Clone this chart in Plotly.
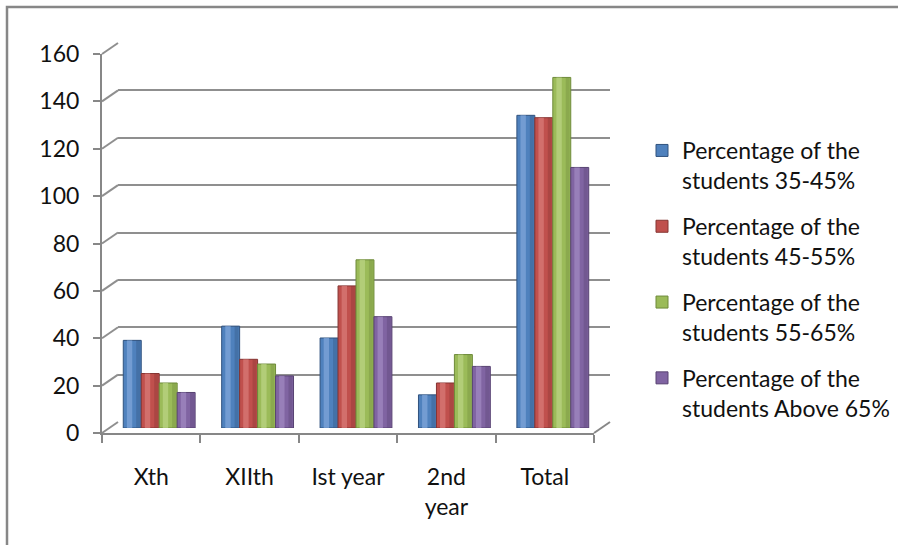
import plotly.graph_objects as go

# ---- data -------------------------------------------------------------
categories = ["Xth", "XIIth", "Ist year", "2nd<br>year", "Total"]
series_names = [
    "Percentage of the<br>students 35-45%",
    "Percentage of the<br>students 45-55%",
    "Percentage of the<br>students 55-65%",
    "Percentage of the<br>students Above 65%",
]
pct_35_45 = [37, 43, 38, 14, 132]
pct_45_55 = [23, 29, 60, 19, 131]
pct_55_65 = [19, 27, 71, 31, 148]
pct_above_65 = [15, 22, 47, 26, 110]
y_ticks = [0, 20, 40, 60, 80, 100, 120, 140, 160]

series_values = [pct_35_45, pct_45_55, pct_55_65, pct_above_65]

# ---- styling ----------------------------------------------------------
W, H = 898, 545
FONT = "Lato"
FONT_SIZE = 23
TEXT = "#111111"
AXIS_GREY = "#878787"
GRID_GREY = "#8f8f8f"

# main / highlight / edge colours for the cylinder shading
colors = [
    ("#4F81BD", "#7FA6D9", "#30527E"),
    ("#C0504D", "#D87A77", "#853432"),
    ("#9BBB59", "#B9D383", "#6E8A3A"),
    ("#8064A2", "#A088C0", "#584372"),
]

# pseudo-3D frame (pixel geometry)
FRONT_L, FRONT_R = 102, 594      # front floor edge
FRONT_B, FRONT_T = 433, 54       # front value axis, 0 .. 160
DX, DY = 16, -11                 # depth offset of the back wall
BAR_DX, BAR_DY = 8, -5           # bars stand half way into the depth
Y_MAX = 160


def fx(p):
    return p / W


def fy(p):
    return 1 - p / H


fig = go.Figure()

# back wall grid (subplot x/y, drawn first)
fig.add_trace(go.Scatter(x=[0], y=[0], mode="markers", marker=dict(opacity=0),
                         showlegend=False, hoverinfo="skip", xaxis="x", yaxis="y"))

# front axes (subplot x2/y2)
fig.add_trace(go.Scatter(x=categories, y=[0] * len(categories), mode="markers",
                         marker=dict(opacity=0), showlegend=False,
                         hoverinfo="skip", xaxis="x2", yaxis="y2"))

# cylinders (subplot x3/y3, drawn last so they sit on top of the grid)
group_w = 0.73
bar_w = group_w / len(series_values)
for i, (name, vals) in enumerate(zip(series_names, series_values)):
    main, light, dark = colors[i]
    off = -group_w / 2 + i * bar_w
    fig.add_trace(go.Bar(
        x=categories, y=vals, name=name, xaxis="x3", yaxis="y3",
        offset=off, width=bar_w, legendgroup=f"g{i}",
        marker=dict(color=main, line=dict(color=dark, width=1)),
    ))
    # darker right flank
    fig.add_trace(go.Bar(
        x=categories, y=vals, xaxis="x3", yaxis="y3", showlegend=False,
        offset=off + bar_w * 0.72, width=bar_w * 0.22, legendgroup=f"g{i}",
        marker=dict(color=dark, opacity=0.35, line=dict(width=0)),
        hoverinfo="skip",
    ))
    # light highlight band
    fig.add_trace(go.Bar(
        x=categories, y=vals, xaxis="x3", yaxis="y3", showlegend=False,
        offset=off + bar_w * 0.2, width=bar_w * 0.3, legendgroup=f"g{i}",
        marker=dict(color=light, opacity=0.75, line=dict(width=0)),
        hoverinfo="skip",
    ))

shapes = []
# diagonal connectors from the front value axis to the back wall
for v in y_ticks:
    yf = FRONT_B - (FRONT_B - FRONT_T) * v / Y_MAX
    shapes.append(dict(type="line", xref="paper", yref="paper",
                       x0=fx(FRONT_L), y0=fy(yf), x1=fx(FRONT_L + DX), y1=fy(yf + DY),
                       line=dict(color=GRID_GREY, width=2)))
# right edge of the floor
shapes.append(dict(type="line", xref="paper", yref="paper",
                   x0=fx(FRONT_R), y0=fy(FRONT_B), x1=fx(FRONT_R + DX), y1=fy(FRONT_B + DY),
                   line=dict(color=AXIS_GREY, width=2)))
# chart frame
shapes.append(dict(type="rect", xref="paper", yref="paper",
                   x0=fx(7), y0=fy(7), x1=fx(W + 20), y1=fy(H + 20),
                   line=dict(color=AXIS_GREY, width=2.5), fillcolor="rgba(0,0,0,0)"))

tick_font = dict(family=FONT, size=FONT_SIZE, color=TEXT)

fig.update_layout(
    width=W, height=H,
    margin=dict(l=0, r=0, t=0, b=0, pad=0, autoexpand=False),
    paper_bgcolor="white", plot_bgcolor="rgba(0,0,0,0)",
    font=dict(family=FONT, size=FONT_SIZE, color=TEXT),
    barmode="overlay",
    shapes=shapes,
    # back wall
    xaxis=dict(domain=[fx(FRONT_L + DX), fx(FRONT_R + DX)], range=[0, 1],
               visible=False, anchor="y", automargin=False),
    yaxis=dict(domain=[fy(FRONT_B + DY), fy(FRONT_T + DY)], range=[0, Y_MAX],
               anchor="x", tickvals=y_ticks, showgrid=True, gridcolor=GRID_GREY,
               gridwidth=2, showticklabels=False, ticks="", showline=False,
               zeroline=False, automargin=False),
    # front axes
    xaxis2=dict(domain=[fx(FRONT_L), fx(FRONT_R)], anchor="y2", type="category",
                range=[-0.5, len(categories) - 0.5], showline=True,
                linecolor=AXIS_GREY, linewidth=2, ticks="outside",
                tickson="boundaries", ticklen=8, tickwidth=2, tickcolor=AXIS_GREY,
                showgrid=False, ticklabelstandoff=22, automargin=False,
                tickfont=tick_font),
    yaxis2=dict(domain=[fy(FRONT_B), fy(FRONT_T)], anchor="x2", range=[0, Y_MAX],
                tickvals=y_ticks, showline=True, linecolor=AXIS_GREY, linewidth=2,
                ticks="outside", ticklen=7, tickwidth=2, tickcolor=AXIS_GREY,
                showgrid=False, zeroline=False, ticklabelstandoff=9,
                automargin=False, tickfont=tick_font),
    # cylinders
    xaxis3=dict(domain=[fx(FRONT_L + BAR_DX), fx(FRONT_R + BAR_DX)], anchor="y3",
                type="category", range=[-0.5, len(categories) - 0.5], visible=False,
                automargin=False),
    yaxis3=dict(domain=[fy(FRONT_B + BAR_DY), fy(FRONT_T + BAR_DY)], anchor="x3",
                range=[0, Y_MAX], visible=False, automargin=False),
    legend=dict(x=fx(642), y=fy(129), xanchor="left", yanchor="top",
                valign="top", tracegroupgap=13, bgcolor="rgba(0,0,0,0)",
                font=tick_font),
    showlegend=True,
)

fig.write_html("out.html")
